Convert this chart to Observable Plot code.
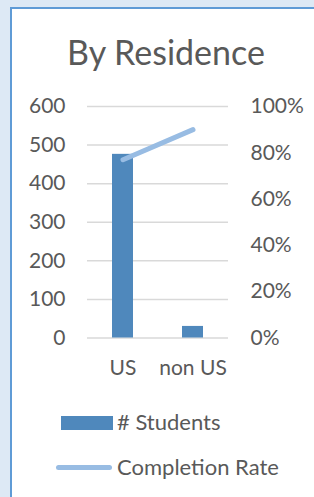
<!DOCTYPE html>
<html>
<head>
<meta charset="utf-8">
<script src="https://cdn.jsdelivr.net/npm/d3@7"></script>
<script src="https://cdn.jsdelivr.net/npm/@observablehq/plot@0.6"></script>
<style>
  html, body { margin: 0; padding: 0; }
  body { width: 314px; height: 497px; overflow: hidden; background: #dde9f5; position: relative; font-family: Lato, "Open Sans", sans-serif; color: #595959; }
  #panel { position: absolute; left: 10px; top: 7px; width: 400px; height: 600px; background: #fff; border: 2px solid #5f9bd6; box-sizing: border-box; }
  #title { position: absolute; left: 0; top: 31px; width: 332px; text-align: center; font-size: 34px; line-height: 42px; color: #595959; }
  #chart { position: absolute; left: 0; top: 90px; }
  #legend { position: absolute; left: 0; top: 408px; font-size: 22px; color: #595959; }
  .li { position: absolute; white-space: nowrap; height: 28px; line-height: 28px; }
</style>
</head>
<body>
<div id="panel"></div>
<div id="title">By Residence</div>
<div id="chart"></div>
<div id="legend"></div>
<script>
const categories = ["US", "non US"];
const students = [476, 30];
const completionRate = [0.77, 0.90];
const leftTicks = [0, 100, 200, 300, 400, 500, 600];
const rightTickLabels = ["0%", "20%", "40%", "60%", "80%", "100%"];
const seriesNames = ["# Students", "Completion Rate"];

const barColor = "#4f88bc";
const lineColor = "#98bce3";
const textColor = "#595959";

const rows = categories.map((c, i) => ({category: c, students: students[i], rate: completionRate[i]}));
const yMax = leftTicks[leftTicks.length - 1];
const rightTickPos = rightTickLabels.map((_, i) => i * yMax / (rightTickLabels.length - 1));

const plot = Plot.plot({
  width: 314,
  height: 300,
  marginLeft: 87,
  marginRight: 86,
  marginTop: 16,
  marginBottom: 52.5,
  style: {fontFamily: "Lato, 'Open Sans', sans-serif", fontSize: "21px", color: textColor, background: "transparent"},
  x: {domain: categories, paddingInner: 0.7, paddingOuter: 0.35, label: null},
  y: {domain: [0, yMax], label: null},
  marks: [
    Plot.ruleY(leftTicks, {stroke: "#d9d9d9", strokeWidth: 1.5}),
    Plot.barY(rows, {x: "category", y: "students", fill: barColor}),
    Plot.line(rows, {x: "category", y: d => d.rate * yMax, stroke: lineColor, strokeWidth: 5, strokeLinecap: "round"}),
    Plot.axisY({anchor: "left", ticks: leftTicks, tickSize: 0, tickPadding: 22, fill: textColor, label: null}),
    Plot.axisY({anchor: "right", ticks: rightTickPos, tickFormat: (d, i) => rightTickLabels[i], tickSize: 0, tickPadding: 22, fill: textColor, label: null}),
    Plot.axisX({tickSize: 0, tickPadding: 22, fill: textColor, label: null})
  ]
});
document.getElementById("chart").appendChild(plot);

const legend = document.getElementById("legend");
legend.innerHTML = `
  <div class="li" style="left:61px;top:0px;"><span style="display:inline-block;width:52px;height:14px;background:${barColor};vertical-align:middle;margin-top:-3px;"></span><span style="margin-left:4px;">${seriesNames[0]}</span></div>
  <div class="li" style="left:56px;top:45px;"><span style="display:inline-block;width:56px;height:5px;border-radius:3px;background:${lineColor};vertical-align:middle;margin-top:-3px;"></span><span style="margin-left:5px;">${seriesNames[1]}</span></div>
`;
</script>
</body>
</html>
